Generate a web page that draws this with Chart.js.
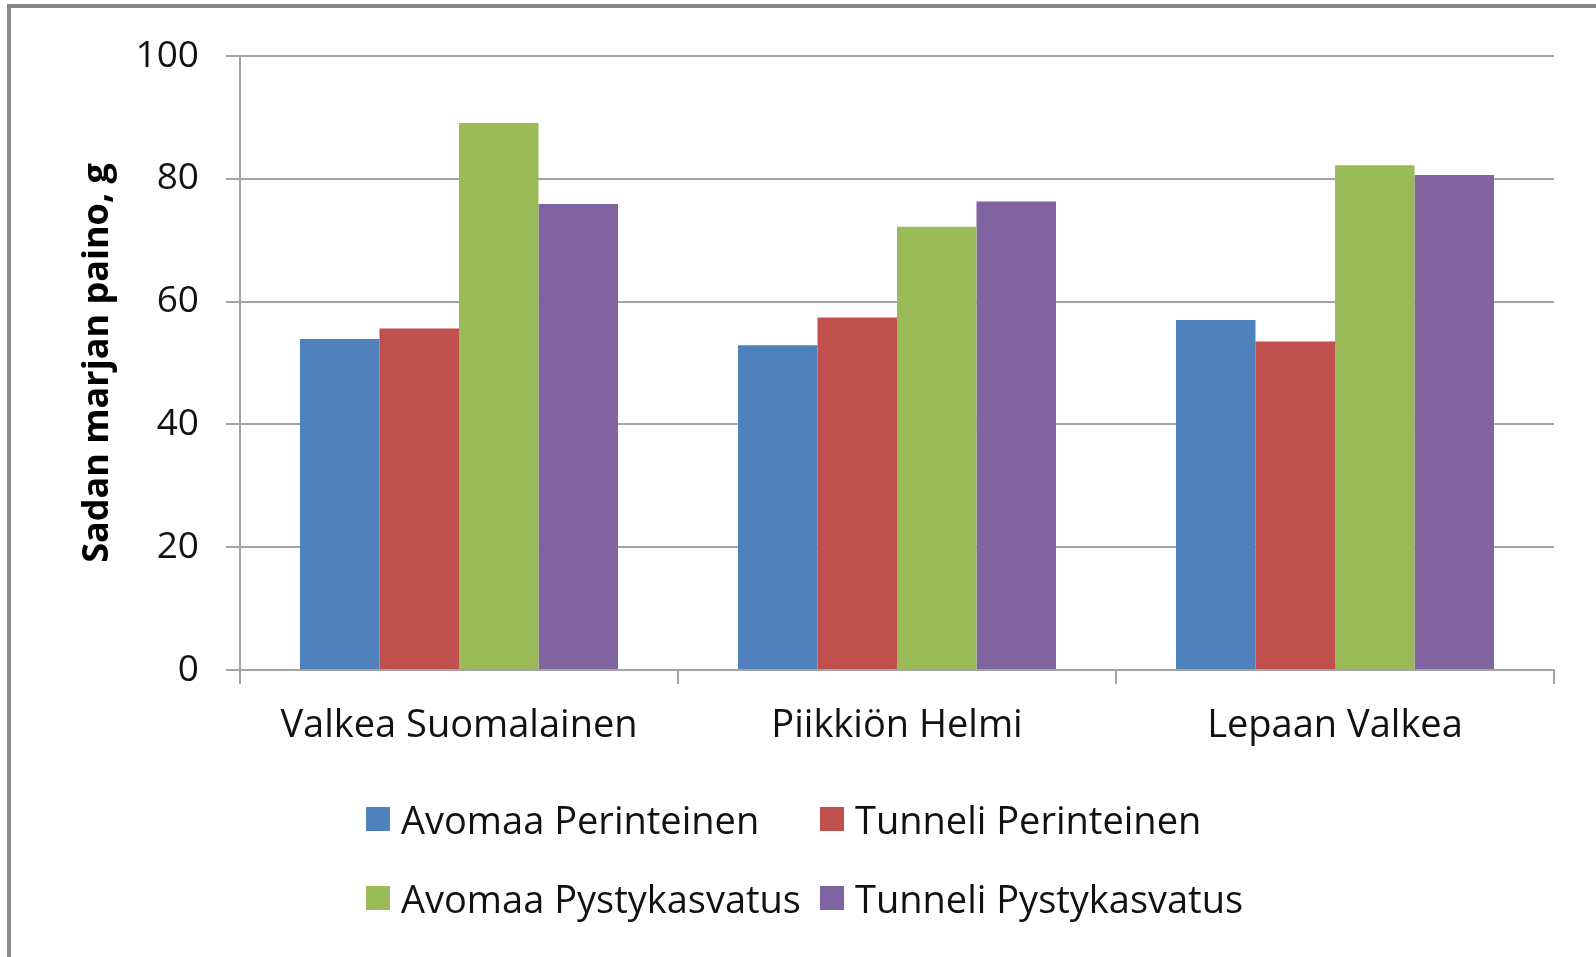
<!DOCTYPE html>
<html>
<head>
<meta charset="utf-8">
<script src="https://cdn.jsdelivr.net/npm/chart.js@4/dist/chart.umd.min.js"></script>
<style>
  body { margin: 0; overflow: hidden; background: #fff; }
  #wrap { position: relative; width: 1596px; height: 957px; overflow: hidden; }
  #frame { position: absolute; left: 7px; top: 4px; width: 1700px; height: 1100px;
           border-top: 4px solid #898989; border-left: 4px solid #898989; }
  canvas { position: absolute; left: 0; top: 0; }
  .leg { position: absolute; display: flex; align-items: center; height: 40px;
         font-family: "Open Sans", sans-serif; font-size: 38px; color: #111; white-space: nowrap; }
  .leg span.box { width: 24px; height: 24px; margin-right: 11px; display: inline-block; }
</style>
</head>
<body>
<div id="wrap">
  <div id="frame"></div>
  <canvas id="chart" width="1596" height="957"></canvas>
  <div id="legend"></div>
</div>
<script>
const kategoriat = ["Valkea Suomalainen", "Piikkiön Helmi", "Lepaan Valkea"];
const sarjat = ["Avomaa Perinteinen", "Tunneli Perinteinen", "Avomaa Pystykasvatus", "Tunneli Pystykasvatus"];

const avomaaPerinteinen = [53.9, 52.9, 57.0];
const tunneliPerinteinen = [55.6, 57.4, 53.5];
const avomaaPystykasvatus = [89.1, 72.2, 82.2];
const tunneliPystykasvatus = [75.9, 76.3, 80.6];

const yMin = 0, yMax = 100, yStep = 20;
const yOtsikko = "Sadan marjan paino, g";

const varit = ["#4F81BD", "#C0504D", "#9BBB59", "#8064A2"];
const arvot = [avomaaPerinteinen, tunneliPerinteinen, avomaaPystykasvatus, tunneliPystykasvatus];

const viiva = "#a3a3a3";
const fontti = "'Open Sans', sans-serif";

const chart = new Chart(document.getElementById("chart"), {
  type: "bar",
  data: {
    labels: kategoriat,
    datasets: sarjat.map((s, i) => ({
      label: s,
      data: arvot[i],
      backgroundColor: varit[i],
      borderWidth: 0,
      barPercentage: 1,
      categoryPercentage: 0.726
    }))
  },
  options: {
    responsive: false,
    animation: false,
    layout: { padding: { left: 0, right: 42, top: 56, bottom: 0 } },
    plugins: {
      legend: { display: false },
      tooltip: { enabled: false }
    },
    scales: {
      x: {
        afterFit: s => { s.height = 287; },
        grid: { display: true, drawOnChartArea: false, drawTicks: true, tickLength: 14, color: viiva, lineWidth: 2 },
        border: { color: viiva, width: 2 },
        ticks: { color: "#111", padding: 19, font: { family: fontti, size: 38 } }
      },
      y: {
        min: yMin,
        max: yMax,
        afterFit: s => { s.width = 240; },
        grid: { color: viiva, lineWidth: 2, tickLength: 14 },
        border: { color: viiva, width: 2 },
        ticks: { stepSize: yStep, color: "#111", padding: 27, font: { family: fontti, size: 37 } },
        title: {
          display: true,
          text: yOtsikko,
          color: "#000",
          padding: { top: 76, bottom: 0 },
          font: { family: fontti, size: 36, weight: "bold", lineHeight: 1.2 }
        }
      }
    }
  }
});

// Excel-style legend in two aligned columns
const legend = document.getElementById("legend");
const paikat = [[366, 799], [820, 799], [366, 878], [820, 878]];
chart.data.datasets.forEach((d, i) => {
  const el = document.createElement("div");
  el.className = "leg";
  el.style.left = paikat[i][0] + "px";
  el.style.top = paikat[i][1] + "px";
  el.innerHTML = `<span class="box" style="background:${d.backgroundColor}"></span>${d.label}`;
  legend.appendChild(el);
});
</script>
</body>
</html>
